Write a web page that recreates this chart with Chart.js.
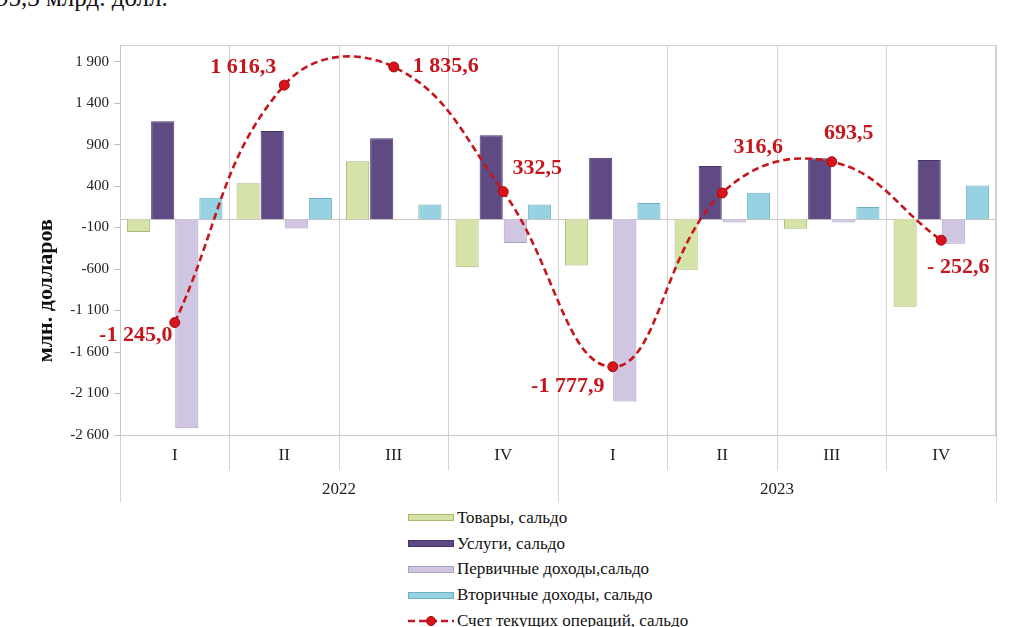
<!DOCTYPE html>
<html><head><meta charset="utf-8">
<script src="https://cdn.jsdelivr.net/npm/chart.js@4.4.1/dist/chart.umd.min.js"></script>
<style>
html,body{margin:0;padding:0;background:#fff;width:1014px;height:627px;overflow:hidden;font-family:"Liberation Serif",serif;}
#top{position:absolute;left:-4px;top:-16px;font-size:25px;color:#111;white-space:nowrap;}
#wrap{position:absolute;left:0;top:0;width:1014px;height:505px;}
#legend{position:absolute;left:408px;top:505px;}
.li{height:25.8px;display:flex;align-items:center;font-size:17px;color:#111;white-space:nowrap;}
.sw{width:46px;height:7px;margin-right:3px;box-sizing:border-box;border:1px solid;}
</style></head>
<body>
<div id="top">95,3 млрд. долл.</div>
<div id="wrap"><canvas id="c"></canvas></div>
<div id="legend"></div>
<script>
const quarters = ['I','II','III','IV','I','II','III','IV'];
const years = ['2022','2023'];
const goods = [-155, 435, 700, -577, -557, -609, -115, -1053];
const services = [1182, 1065, 977, 1013, 742, 642, 735, 714];
const primaryIncome = [-2520, -110, 0, -285, -2195, -40, -40, -294];
const secondaryIncome = [258, 255, 178, 178, 197, 318, 149, 408];
const currentAccount = [-1245.0, 1616.3, 1835.6, 332.5, -1777.9, 316.6, 693.5, -252.6];
const currentAccountLabels = ['-1 245,0','1 616,3','1 835,6','332,5','-1 777,9','316,6','693,5','- 252,6'];
const labelOffsets = [[-39,13],[-41,-18],[52,-1],[34,-23],[-45,20],[36,-46],[17,-28],[17,27]];
const yTicks = [-2600,-2100,-1600,-1100,-600,-100,400,900,1400,1900];
const seriesNames = ['Товары, сальдо','Услуги, сальдо','Первичные доходы,сальдо','Вторичные доходы, сальдо','Счет текущих операций, сальдо'];

const fmt = v => { const s = Math.abs(v).toString().replace(/\B(?=(\d{3})+(?!\d))/g,' '); return (v<0?'-':'') + s; };

const barColors = ['#d6e3a8','#5f4a84','#d0c6e2','#97d2e2'];
const barBorders = ['#a7b872','#46356a','#ab9fc4','#6cb0c4'];
const lineColor = '#c4161c';

const framePlugin = {
  id:'frame',
  beforeDatasetsDraw(chart){
    const {ctx, chartArea:a, scales:{y}} = chart;
    ctx.save();
    ctx.strokeStyle='#cfcfcf'; ctx.lineWidth=1;
    ctx.beginPath();
    ctx.moveTo(a.left, a.top+0.5); ctx.lineTo(a.right-0.5, a.top+0.5); ctx.lineTo(a.right-0.5, a.bottom);
    ctx.stroke();
    const y0 = Math.round(y.getPixelForValue(0))+0.5;
    ctx.strokeStyle='#c8c8c8';
    ctx.beginPath(); ctx.moveTo(a.left,y0); ctx.lineTo(a.right,y0); ctx.stroke();
    ctx.restore();
  },
  afterDraw(chart){
    const {ctx, chartArea:a} = chart;
    ctx.save();
    ctx.translate(46, a.top + (a.bottom-a.top)*0.63);
    ctx.rotate(-Math.PI/2);
    ctx.font = 'bold 22px "Liberation Serif"';
    ctx.fillStyle = '#111';
    ctx.textAlign='center'; ctx.textBaseline='middle';
    ctx.fillText('млн. долларов', 0, 0);
    ctx.restore();
  }
};

const labelPlugin = {
  id:'caLabels',
  afterDatasetsDraw(chart){
    const meta = chart.getDatasetMeta(4);
    const ctx = chart.ctx;
    ctx.save();
    ctx.font = 'bold 22px "Liberation Serif"';
    ctx.fillStyle = lineColor;
    ctx.textAlign='center'; ctx.textBaseline='middle';
    meta.data.forEach((pt,i)=>{
      const [dx,dy] = labelOffsets[i];
      ctx.fillText(currentAccountLabels[i], pt.x+dx, pt.y+dy);
    });
    ctx.restore();
  }
};

const barSet = (i, data) => ({
  type:'bar', label: seriesNames[i], data,
  backgroundColor: barColors[i], borderColor: barBorders[i], borderWidth: 1,
  categoryPercentage: 0.88, barPercentage: 0.96, order: 1
});

const chart = new Chart(document.getElementById('c'), {
  data: {
    labels: quarters,
    datasets: [
      barSet(0, goods), barSet(1, services), barSet(2, primaryIncome), barSet(3, secondaryIncome),
      { type:'line', label: seriesNames[4], data: currentAccount, borderColor: lineColor, borderWidth: 2.6,
        borderDash:[7,4], tension: 0.42, pointRadius: 5, pointBackgroundColor:'#d8141a',
        pointBorderColor:'#9c0d12', pointBorderWidth:1, order: 0, fill:false }
    ]
  },
  options: {
    responsive: true, maintainAspectRatio: false, animation: false,
    layout: { padding: { top: 45, right: 18, left: 0, bottom: 0 } },
    plugins: { legend: { display: false }, tooltip: { enabled: false } },
    scales: {
      y: {
        min: -2600, max: 2100,
        afterBuildTicks: s => { s.ticks = yTicks.map(v => ({ value: v })); },
        afterFit: s => { s.width = 120; },
        ticks: { callback: v => fmt(v), font: { family: 'Liberation Serif', size: 15 }, color: '#222', padding: 5 },
        grid: { drawOnChartArea: false, drawTicks: true, tickLength: 6, color: '#bdbdbd' },
        border: { display: true, color: '#c8c8c8' }
      },
      x: {
        offset: true,
        afterFit: s => { s.height = 35; },
        ticks: { font: { family: 'Liberation Serif', size: 17 }, color: '#222', padding: -25 },
        grid: { offset: true, drawOnChartArea: true, drawTicks: true, tickLength: 35, color: '#d3d3d3' },
        border: { display: true, color: '#c8c8c8' }
      },
      x2: {
        type: 'category', labels: years, position: 'bottom', offset: true,
        afterFit: s => { s.height = 35; },
        ticks: { font: { family: 'Liberation Serif', size: 17 }, color: '#222', padding: -23 },
        grid: { offset: true, drawOnChartArea: false, drawTicks: true, tickLength: 32, color: '#d3d3d3' },
        border: { display: false }
      }
    }
  },
  plugins: [framePlugin, labelPlugin]
});

// HTML legend built from the series
const lg = document.getElementById('legend');
seriesNames.forEach((name, i) => {
  const row = document.createElement('div'); row.className = 'li';
  if (i < 4) {
    const sw = document.createElement('span'); sw.className = 'sw';
    sw.style.background = barColors[i]; sw.style.borderColor = barBorders[i];
    row.appendChild(sw);
  } else {
    const ns = 'http://www.w3.org/2000/svg';
    const svg = document.createElementNS(ns, 'svg');
    svg.setAttribute('width', '46'); svg.setAttribute('height', '12'); svg.style.marginRight = '3px';
    const ln = document.createElementNS(ns, 'line');
    ln.setAttribute('x1','0'); ln.setAttribute('y1','6'); ln.setAttribute('x2','46'); ln.setAttribute('y2','6');
    ln.setAttribute('stroke', lineColor); ln.setAttribute('stroke-width','2.6'); ln.setAttribute('stroke-dasharray','7 4');
    const c = document.createElementNS(ns, 'circle');
    c.setAttribute('cx','23'); c.setAttribute('cy','6'); c.setAttribute('r','4.5');
    c.setAttribute('fill','#d8141a'); c.setAttribute('stroke','#9c0d12');
    svg.appendChild(ln); svg.appendChild(c); row.appendChild(svg);
  }
  const t = document.createElement('span'); t.textContent = name; row.appendChild(t);
  lg.appendChild(row);
});
</script>
</body></html>
